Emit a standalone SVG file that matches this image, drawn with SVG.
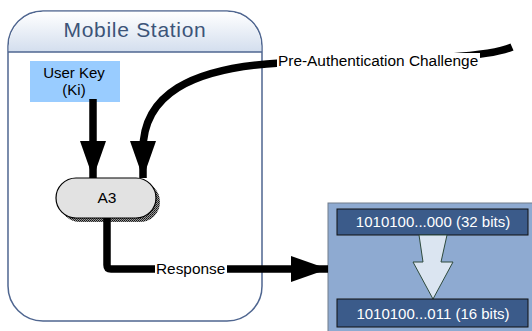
<svg xmlns="http://www.w3.org/2000/svg" width="532" height="331" viewBox="0 0 532 331">
  <defs>
    <linearGradient id="hdrFill" x1="0" y1="0" x2="0" y2="1">
      <stop offset="0" stop-color="#ffffff"/>
      <stop offset="1" stop-color="#d3deee"/>
    </linearGradient>
    <pattern id="dither" width="2" height="2" patternUnits="userSpaceOnUse">
      <rect width="2" height="2" fill="#9a9a9a"/>
      <rect width="1" height="1" fill="#111111"/>
      <rect x="1" y="1" width="1" height="1" fill="#333333"/>
    </pattern>
    <marker id="bigHead" markerUnits="userSpaceOnUse" markerWidth="38" markerHeight="26" refX="37" refY="13" orient="auto">
      <path d="M0,0 L37,13 L0,26 Z" fill="#000"/>
    </marker>
  </defs>
  <style>
    .lbl { font-family: "Liberation Sans", Arial, sans-serif; fill: #000; }
    .wire { fill: none; stroke: #000; stroke-width: 7.5; stroke-linejoin: round; }
    .bits { font-family: "Liberation Sans", Arial, sans-serif; font-size: 15px; fill: #ffffff; text-anchor: middle; }
    .bitbox { fill: #3b5b8a; stroke: #111; stroke-width: 1; }
  </style>

  <!-- Mobile Station container -->
  <g id="mobile-station">
    <rect x="8" y="11" width="254" height="310" rx="35" ry="35" fill="#ffffff" stroke="#4f6690" stroke-width="1.5"/>
    <path d="M8.75,52 L8.75,46 A35,35 0 0 1 43,11.75 L227,11.75 A35,35 0 0 1 261.25,46 L261.25,52 Z" fill="url(#hdrFill)"/>
    <line x1="8" y1="52" x2="262" y2="52" stroke="#4f6690" stroke-width="1.5"/>
    <text x="135" y="37" font-family="'Liberation Sans', Arial, sans-serif" font-size="21" letter-spacing="0.7" fill="#3c5478" text-anchor="middle">Mobile Station</text>
  </g>

  <!-- User key -->
  <g id="user-key">
    <rect x="30" y="61" width="90" height="41" fill="#99ccff"/>
    <text class="lbl" x="74" y="78" font-size="15" text-anchor="middle">User Key</text>
    <text class="lbl" x="74" y="95" font-size="15" text-anchor="middle">(Ki)</text>
  </g>

  <!-- A3 algorithm -->
  <g id="a3">
    <rect x="60" y="182" width="100" height="40" rx="20" ry="20" fill="url(#dither)"/>
    <rect x="56" y="178" width="100" height="40" rx="20" ry="20" fill="#e2e2e2" stroke="#000" stroke-width="1.2"/>
    <text class="lbl" x="107" y="203" font-size="15.5" text-anchor="middle">A3</text>
  </g>

  <!-- Result panel -->
  <g id="result">
    <rect x="328" y="203" width="210" height="140" fill="#8eaad1" stroke="#707c8c" stroke-width="1"/>
    <g id="bits-32">
      <rect class="bitbox" x="337" y="209" width="191" height="26"/>
      <text class="bits" x="433" y="227">1010100...000 (32 bits)</text>
    </g>
    <path d="M419,235 L447,235 L441,262 L453,262 L433,299 L413,262 L423,262 Z" fill="#dbe5f1" stroke="#2e4a3c" stroke-width="1"/>
    <g id="bits-16">
      <rect class="bitbox" x="337" y="299" width="191" height="28"/>
      <text class="bits" x="433" y="319">1010100...011 (16 bits)</text>
    </g>
  </g>

  <!-- Connectors -->
  <g id="connectors">
    <path class="wire" d="M93,99 L93,178" marker-end="url(#bigHead)"/>
    <path class="wire" d="M512,47 C492,56 440,60 280,63 C190,68 143,95 143,150 L143,178" marker-end="url(#bigHead)"/>
    <rect x="277" y="53" width="203" height="16" fill="#ffffff"/>
    <text class="lbl" x="278" y="66" font-size="15.4">Pre-Authentication Challenge</text>
    <path class="wire" d="M107,218 L107,265 Q107,269 111,269 L328,269" marker-end="url(#bigHead)"/>
    <rect x="155" y="261" width="72" height="16" fill="#ffffff"/>
    <text class="lbl" x="156" y="274" font-size="15.4">Response</text>
  </g>
</svg>
